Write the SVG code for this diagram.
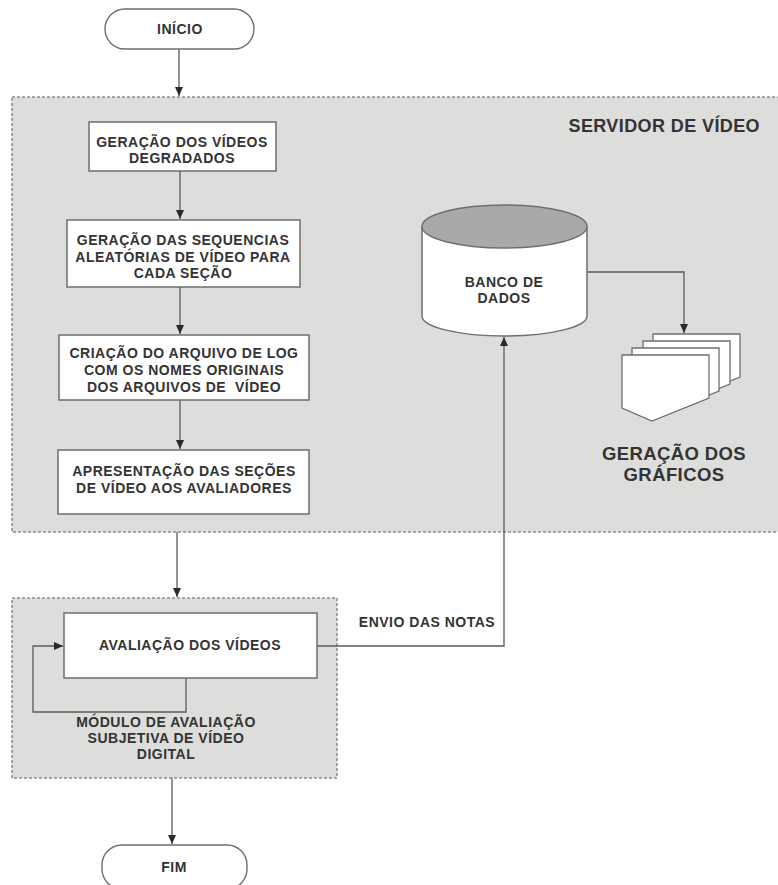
<svg xmlns="http://www.w3.org/2000/svg" width="778" height="885" viewBox="0 0 778 885">
  <defs>
    <style>
      .zone { fill: #dddddb; stroke: #8f8f8f; stroke-width: 1.6; stroke-dasharray: 3 2; }
      .box { fill: #ffffff; stroke: #6e6e6e; stroke-width: 1.5; }
      .term { fill: #ffffff; stroke: #6e6e6e; stroke-width: 1.4; }
      .lbl { font-family: "Liberation Sans", Arial, sans-serif; font-weight: bold; font-size: 14px; fill: #333333; letter-spacing: 0.5px; text-anchor: middle; white-space: pre; }
      .big { font-size: 18px; letter-spacing: 0.4px; }
      .edge { fill: none; stroke: #5a5a5a; stroke-width: 1.3; }
      .doc { fill: #ffffff; stroke: #6e6e6e; stroke-width: 1.3; }
    </style>
    <marker id="arrow" markerWidth="10" markerHeight="10" refX="9" refY="5" orient="auto" markerUnits="userSpaceOnUse">
      <path d="M0,1 L9,5 L0,9 Z" fill="#2a2a2a"/>
    </marker>
    <path id="page" d="M0,0 H87 V43 L30,66 L0,53 Z"/>
  </defs>

  <!-- container zones -->
  <g id="servidor">
    <rect class="zone" x="12" y="97" width="772" height="435"/>
    <text class="lbl big" x="760" y="132" style="text-anchor:end">SERVIDOR DE VÍDEO</text>
  </g>
  <g id="modulo">
    <rect class="zone" x="12" y="598" width="325" height="180"/>
    <text class="lbl" x="166" y="727">MÓDULO DE AVALIAÇÃO</text>
    <text class="lbl" x="166" y="743">SUBJETIVA DE VÍDEO</text>
    <text class="lbl" x="166" y="759">DIGITAL</text>
  </g>

  <!-- connectors -->
  <g id="connectors">
    <path class="edge" d="M179,49 V96" marker-end="url(#arrow)"/>
    <path class="edge" d="M180,171 V219" marker-end="url(#arrow)"/>
    <path class="edge" d="M180,287 V334" marker-end="url(#arrow)"/>
    <path class="edge" d="M180,400 V449" marker-end="url(#arrow)"/>
    <path class="edge" d="M177,532 V597" marker-end="url(#arrow)"/>
    <path class="edge" d="M186,678 V712 H33 V646 H63" marker-end="url(#arrow)"/>
    <path class="edge" d="M317,646 H504 V337" marker-end="url(#arrow)"/>
    <path class="edge" d="M587,272 H684 V333" marker-end="url(#arrow)"/>
    <path class="edge" d="M172,778 V844" marker-end="url(#arrow)"/>
    <text class="lbl" x="427" y="627">ENVIO DAS NOTAS</text>
  </g>

  <!-- nodes -->
  <g id="inicio">
    <rect class="term" x="105" y="9" width="149" height="40" rx="20"/>
    <text class="lbl" x="180" y="34">INÍCIO</text>
  </g>

  <g id="geracao-videos">
    <rect class="box" x="89" y="122" width="187" height="49"/>
    <text class="lbl" x="182" y="147">GERAÇÃO DOS VÍDEOS</text>
    <text class="lbl" x="182" y="163">DEGRADADOS</text>
  </g>

  <g id="sequencias">
    <rect class="box" x="67" y="220" width="233" height="67"/>
    <text class="lbl" x="183" y="245">GERAÇÃO DAS SEQUENCIAS</text>
    <text class="lbl" x="183" y="262">ALEATÓRIAS DE VÍDEO PARA</text>
    <text class="lbl" x="183" y="278">CADA SEÇÃO</text>
  </g>

  <g id="arquivo-log">
    <rect class="box" x="59" y="335" width="250" height="65"/>
    <text class="lbl" x="184" y="358">CRIAÇÃO DO ARQUIVO DE LOG</text>
    <text class="lbl" x="184" y="375">COM OS NOMES ORIGINAIS</text>
    <text class="lbl" x="184" y="392" xml:space="preserve">DOS ARQUIVOS DE  VÍDEO</text>
  </g>

  <g id="apresentacao">
    <rect class="box" x="58" y="450" width="251" height="64"/>
    <text class="lbl" x="184" y="476">APRESENTAÇÃO DAS SEÇÕES</text>
    <text class="lbl" x="184" y="493">DE VÍDEO AOS AVALIADORES</text>
  </g>

  <g id="banco-dados">
    <path class="box" d="M422,226.5 V316 A82.5,20 0 0 0 587,316 V226.5"/>
    <ellipse cx="504.5" cy="226.5" rx="82.5" ry="21.5" fill="#a9a9a9" stroke="#6e6e6e" stroke-width="1.5"/>
    <text class="lbl" x="504" y="287">BANCO DE</text>
    <text class="lbl" x="504" y="303">DADOS</text>
  </g>

  <g id="graficos">
    <use href="#page" class="doc" x="653" y="334"/>
    <use href="#page" class="doc" x="643" y="341"/>
    <use href="#page" class="doc" x="632" y="348"/>
    <use href="#page" class="doc" x="622" y="355"/>
    <text class="lbl big" x="674" y="460" style="font-size:18.5px">GERAÇÃO DOS</text>
    <text class="lbl big" x="674" y="481" style="font-size:18.5px">GRÁFICOS</text>
  </g>

  <g id="avaliacao">
    <rect class="box" x="64" y="613" width="253" height="65"/>
    <text class="lbl" x="190" y="650">AVALIAÇÃO DOS VÍDEOS</text>
  </g>

  <g id="fim">
    <rect class="term" x="102" y="845" width="145" height="44" rx="20"/>
    <text class="lbl" x="174" y="872">FIM</text>
  </g>
</svg>
